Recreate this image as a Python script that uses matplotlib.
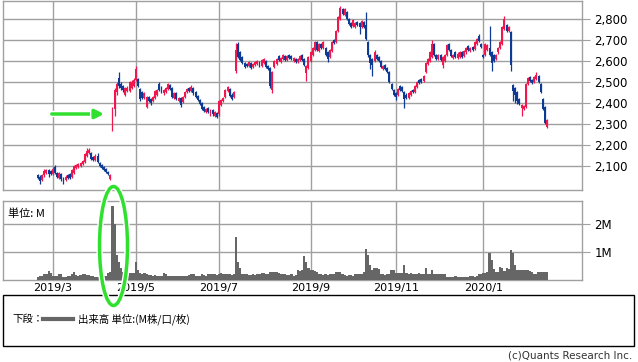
import numpy as np
import matplotlib
matplotlib.use("Agg")
from matplotlib import pyplot as plt
from matplotlib import patches
import matplotlib.patheffects as pe

# daily candles, 2019/2 - 2020/2 (trading days)
opens = [
    2055, 2050, 2035, 2055, 2065, 2080, 2075, 2060, 2095, 2065,
    2045, 2060, 2045, 2035, 2055, 2060, 2050, 2065, 2090, 2095,
    2100, 2110, 2120, 2150, 2160, 2160, 2145, 2130, 2150, 2115,
    2105, 2095, 2085, 2070, 2040, 2290, 2370, 2450, 2520, 2490,
    2480, 2440, 2455, 2455, 2470, 2480, 2510, 2515, 2468, 2450,
    2425, 2380, 2430, 2420, 2410, 2425, 2440, 2490, 2475, 2445,
    2450, 2465, 2485, 2470, 2425, 2445, 2410, 2425, 2405, 2430,
    2450, 2470, 2455, 2470, 2450, 2435, 2415, 2400, 2380, 2355,
    2375, 2345, 2365, 2340, 2350, 2345, 2390, 2410, 2430, 2455,
    2465, 2440, 2430, 2550, 2680, 2640, 2620, 2590, 2585, 2575,
    2590, 2570, 2580, 2585, 2595, 2575, 2590, 2600, 2575, 2565,
    2460, 2570, 2585, 2625, 2595, 2610, 2625, 2605, 2630, 2625,
    2600, 2610, 2595, 2605, 2630, 2610, 2540, 2565, 2600, 2630,
    2650, 2690, 2645, 2680, 2660, 2660, 2640, 2620, 2645, 2700,
    2690, 2740, 2800, 2845, 2820, 2830, 2800, 2780, 2765, 2760,
    2785, 2780, 2760, 2785, 2770, 2690, 2630, 2610, 2600, 2630,
    2620, 2600, 2560, 2580, 2565, 2545, 2490, 2460, 2445, 2440,
    2480, 2475, 2450, 2440, 2425, 2440, 2460, 2450, 2475, 2510,
    2515, 2505, 2545, 2585, 2600, 2620, 2680, 2630, 2610, 2630,
    2580, 2600, 2630, 2680, 2650, 2615, 2640, 2615, 2620, 2640,
    2625, 2640, 2670, 2645, 2665, 2655, 2680, 2720, 2680, 2630,
    2630, 2650, 2660, 2640, 2630, 2610, 2640, 2660, 2680, 2750,
    2770, 2740, 2735, 2485, 2470, 2450, 2420, 2375, 2370, 2380,
    2490, 2525, 2510, 2500, 2515, 2530, 2490, 2420, 2380, 2285,
]
closes = [
    2045, 2030, 2055, 2075, 2080, 2060, 2060, 2085, 2065, 2050,
    2065, 2040, 2030, 2050, 2045, 2045, 2080, 2100, 2105, 2110,
    2115, 2125, 2155, 2170, 2178, 2135, 2130, 2150, 2120, 2100,
    2090, 2080, 2070, 2060, 2055, 2370, 2460, 2490, 2480, 2470,
    2460, 2470, 2470, 2500, 2500, 2510, 2560, 2480, 2420, 2425,
    2445, 2430, 2410, 2400, 2430, 2455, 2460, 2460, 2450, 2460,
    2470, 2490, 2465, 2430, 2445, 2420, 2425, 2390, 2430, 2450,
    2465, 2455, 2475, 2445, 2430, 2415, 2395, 2370, 2360, 2370,
    2355, 2365, 2345, 2355, 2335, 2410, 2415, 2425, 2460, 2475,
    2435, 2420, 2450, 2650, 2620, 2605, 2590, 2570, 2575, 2595,
    2565, 2585, 2595, 2600, 2575, 2605, 2610, 2570, 2560, 2480,
    2545, 2600, 2610, 2605, 2615, 2630, 2605, 2625, 2615, 2610,
    2615, 2595, 2610, 2625, 2605, 2580, 2575, 2620, 2640, 2660,
    2690, 2650, 2680, 2660, 2690, 2630, 2610, 2650, 2690, 2685,
    2740, 2810, 2850, 2825, 2845, 2800, 2775, 2760, 2795, 2780,
    2770, 2760, 2790, 2760, 2705, 2630, 2590, 2580, 2640, 2610,
    2600, 2570, 2575, 2560, 2545, 2500, 2465, 2440, 2430, 2465,
    2460, 2455, 2420, 2425, 2445, 2455, 2450, 2480, 2500, 2495,
    2500, 2530, 2590, 2610, 2640, 2680, 2630, 2610, 2630, 2605,
    2620, 2630, 2675, 2650, 2625, 2630, 2620, 2635, 2640, 2620,
    2645, 2660, 2650, 2660, 2650, 2690, 2705, 2695, 2665, 2620,
    2680, 2675, 2630, 2590, 2600, 2630, 2660, 2690, 2760, 2800,
    2740, 2760, 2580, 2455, 2440, 2410, 2395, 2390, 2385, 2490,
    2520, 2505, 2495, 2525, 2535, 2500, 2450, 2370, 2305, 2320,
]
highs = [
    2060, 2055, 2060, 2085, 2085, 2085, 2080, 2095, 2105, 2070,
    2070, 2065, 2050, 2055, 2060, 2065, 2085, 2105, 2110, 2115,
    2120, 2130, 2160, 2185, 2185, 2165, 2150, 2155, 2160, 2120,
    2110, 2100, 2090, 2075, 2060, 2380, 2470, 2500, 2545, 2500,
    2485, 2475, 2480, 2505, 2510, 2520, 2575, 2520, 2470, 2455,
    2450, 2435, 2435, 2425, 2435, 2460, 2465, 2500, 2480, 2465,
    2475, 2495, 2490, 2475, 2450, 2450, 2430, 2430, 2435, 2455,
    2470, 2475, 2485, 2475, 2455, 2440, 2420, 2405, 2385, 2375,
    2380, 2370, 2370, 2360, 2355, 2415, 2420, 2430, 2465, 2480,
    2470, 2445, 2455, 2685, 2688, 2645, 2625, 2595, 2590, 2600,
    2595, 2590, 2600, 2605, 2600, 2610, 2615, 2605, 2580, 2570,
    2550, 2605, 2615, 2630, 2620, 2635, 2630, 2630, 2635, 2630,
    2620, 2615, 2615, 2630, 2635, 2615, 2580, 2625, 2645, 2665,
    2695, 2695, 2685, 2685, 2695, 2665, 2645, 2655, 2695, 2705,
    2745, 2815, 2862, 2850, 2850, 2835, 2805, 2785, 2800, 2785,
    2790, 2785, 2795, 2790, 2832, 2695, 2635, 2615, 2650, 2635,
    2625, 2605, 2580, 2585, 2570, 2550, 2495, 2465, 2450, 2470,
    2485, 2480, 2455, 2445, 2450, 2460, 2465, 2485, 2505, 2515,
    2520, 2535, 2595, 2615, 2645, 2700, 2685, 2635, 2635, 2635,
    2625, 2635, 2680, 2685, 2655, 2635, 2645, 2640, 2645, 2645,
    2650, 2665, 2675, 2665, 2670, 2695, 2710, 2730, 2685, 2635,
    2685, 2680, 2765, 2645, 2635, 2635, 2665, 2695, 2765, 2815,
    2775, 2765, 2740, 2490, 2475, 2455, 2425, 2395, 2390, 2495,
    2525, 2530, 2515, 2530, 2548, 2535, 2495, 2425, 2385, 2325,
]
lows = [
    2040, 2015, 2030, 2050, 2060, 2050, 2055, 2055, 2060, 2045,
    2040, 2030, 2015, 2030, 2040, 2040, 2045, 2060, 2085, 2090,
    2095, 2105, 2115, 2145, 2155, 2130, 2125, 2125, 2115, 2095,
    2085, 2075, 2065, 2055, 2035, 2265, 2340, 2440, 2470, 2460,
    2450, 2435, 2450, 2450, 2465, 2475, 2505, 2475, 2410, 2420,
    2420, 2375, 2405, 2390, 2405, 2420, 2435, 2455, 2445, 2440,
    2445, 2460, 2460, 2425, 2420, 2415, 2405, 2380, 2400, 2425,
    2445, 2450, 2450, 2440, 2425, 2410, 2390, 2365, 2355, 2350,
    2350, 2340, 2340, 2335, 2328, 2340, 2385, 2405, 2425, 2450,
    2430, 2415, 2425, 2540, 2615, 2600, 2585, 2565, 2570, 2570,
    2560, 2565, 2575, 2580, 2570, 2570, 2585, 2565, 2555, 2470,
    2445, 2565, 2580, 2600, 2590, 2605, 2600, 2600, 2610, 2605,
    2595, 2590, 2590, 2600, 2600, 2575, 2505, 2560, 2595, 2625,
    2645, 2645, 2640, 2655, 2655, 2625, 2594, 2615, 2640, 2680,
    2685, 2735, 2795, 2820, 2815, 2795, 2770, 2755, 2760, 2755,
    2765, 2730, 2755, 2755, 2700, 2620, 2560, 2530, 2595, 2605,
    2595, 2565, 2555, 2555, 2540, 2495, 2460, 2435, 2415, 2435,
    2455, 2450, 2375, 2420, 2420, 2435, 2445, 2445, 2470, 2490,
    2495, 2500, 2540, 2580, 2595, 2615, 2625, 2605, 2605, 2600,
    2565, 2595, 2625, 2645, 2620, 2610, 2615, 2610, 2615, 2615,
    2620, 2635, 2645, 2640, 2645, 2650, 2675, 2690, 2660, 2615,
    2625, 2645, 2625, 2552, 2595, 2605, 2635, 2655, 2675, 2745,
    2735, 2735, 2552, 2410, 2400, 2395, 2390, 2340, 2365, 2375,
    2485, 2500, 2490, 2495, 2510, 2495, 2445, 2365, 2300, 2280,
]
# volume (M shares)
volumes = [
    0.10, 0.14, 0.14, 0.20, 0.22, 0.32, 0.24, 0.16, 0.14, 0.15,
    0.20, 0.20, 0.12, 0.12, 0.14, 0.14, 0.22, 0.30, 0.18, 0.16,
    0.18, 0.20, 0.20, 0.18, 0.17, 0.14, 0.14, 0.12, 0.12, 0.10,
    0.10, 0.14, 0.16, 0.25, 0.30, 2.65, 1.99, 0.90, 0.63, 0.42,
    0.30, 0.18, 0.18, 0.26, 0.26, 0.24, 0.63, 0.34, 0.24, 0.22,
    0.24, 0.20, 0.18, 0.18, 0.16, 0.18, 0.16, 0.14, 0.14, 0.24,
    0.22, 0.14, 0.14, 0.14, 0.16, 0.15, 0.16, 0.15, 0.14, 0.16,
    0.14, 0.18, 0.20, 0.20, 0.16, 0.14, 0.16, 0.22, 0.18, 0.16,
    0.20, 0.22, 0.20, 0.22, 0.18, 0.20, 0.24, 0.20, 0.20, 0.22,
    0.20, 0.18, 0.20, 1.55, 0.66, 0.42, 0.22, 0.20, 0.22, 0.18,
    0.18, 0.20, 0.18, 0.20, 0.22, 0.24, 0.24, 0.22, 0.20, 0.30,
    0.30, 0.28, 0.30, 0.26, 0.22, 0.20, 0.22, 0.18, 0.18, 0.20,
    0.16, 0.18, 0.34, 0.32, 0.34, 0.84, 0.63, 0.42, 0.36, 0.36,
    0.32, 0.30, 0.20, 0.22, 0.18, 0.20, 0.18, 0.22, 0.22, 0.20,
    0.28, 0.30, 0.28, 0.20, 0.18, 0.16, 0.18, 0.18, 0.16, 0.20,
    0.22, 0.20, 0.22, 0.28, 1.10, 0.90, 0.54, 0.36, 0.42, 0.42,
    0.40, 0.22, 0.22, 0.18, 0.20, 0.22, 0.36, 0.36, 0.24, 0.26,
    0.24, 0.26, 0.54, 0.24, 0.22, 0.24, 0.22, 0.20, 0.22, 0.24,
    0.20, 0.22, 0.42, 0.22, 0.20, 0.36, 0.22, 0.20, 0.22, 0.20,
    0.22, 0.20, 0.12, 0.10, 0.12, 0.12, 0.14, 0.12, 0.12, 0.10,
    0.10, 0.12, 0.12, 0.14, 0.16, 0.12, 0.16, 0.20, 0.20, 0.24,
    0.24, 0.30, 0.96, 0.72, 0.38, 0.30, 0.28, 0.48, 0.42, 0.32,
    0.42, 0.40, 1.06, 0.95, 0.54, 0.36, 0.36, 0.36, 0.36, 0.36,
    0.36, 0.32, 0.30, 0.22, 0.22, 0.30, 0.30, 0.30, 0.30, 0.30,
]
month_labels = ["2019/3", "2019/5", "2019/7", "2019/9", "2019/11", "2020/1"]
month_index = [7, 46, 85, 128, 168, 209]   # first trading day of each month
price_ticks = [2100, 2200, 2300, 2400, 2500, 2600, 2700, 2800]

UP = "#f0164e"
DOWN = "#0c3a94"
GRID = "#a0a0a0"
GREEN = "#2fe02f"
JP = ["Noto Sans CJK JP", "DejaVu Sans"]

W, H = 638, 362
fig = plt.figure(figsize=(W / 100, H / 100), dpi=100)

def px_box(left, top, right, bottom):
    return [left / W, 1 - bottom / H, (right - left) / W, (bottom - top) / H]

# ---- price panel
ax = fig.add_axes(px_box(3, 0.5, 582, 190))
o = np.array(opens)
c = np.array(closes)
hi = np.array(highs)
lo = np.array(lows)
x = np.arange(len(o))
up = c >= o
col = np.where(up, UP, DOWN)
ax.vlines(x, lo, hi, colors=col, linewidth=0.9, zorder=3)
body_lo = np.minimum(o, c)
body_h = np.maximum(np.abs(c - o), 3)
ax.bar(x, body_h, bottom=body_lo, width=0.92, color=col, linewidth=0, zorder=3)

ax.set_xlim(-16.4, 255.4)
ax.set_ylim(1986, 2887)
ax.set_yticks(price_ticks)
ax.set_yticklabels(["{:,}".format(v) for v in price_ticks])
ax.yaxis.tick_right()
ax.tick_params(axis="y", length=6, color=GRID, labelsize=8.5, pad=3)
ax.set_xticks(month_index)
ax.tick_params(axis="x", length=0, labelbottom=False)
ax.grid(True, color=GRID, linewidth=1.0, zorder=0)
for s in ax.spines.values():
    s.set_color(GRID)
    s.set_linewidth(1.0)

# ---- volume panel
axv = fig.add_axes(px_box(3, 201, 582, 280))
axv.bar(x, volumes, width=1.0, color="#666666", linewidth=0, zorder=3,
        antialiased=False)
axv.set_xlim(-16.4, 255.4)
axv.set_ylim(0, 2.82)
axv.set_yticks([1, 2])
axv.set_yticklabels(["1M", "2M"])
axv.yaxis.tick_right()
axv.tick_params(axis="y", length=6, color=GRID, labelsize=8.5, pad=3)
axv.set_xticks(month_index)
axv.set_xticklabels(month_labels)
axv.tick_params(axis="x", length=0, labelsize=8, pad=2)
axv.grid(True, color=GRID, linewidth=1.0, zorder=0)
for s in axv.spines.values():
    s.set_color(GRID)
    s.set_linewidth(1.0)
axv.text(5 / 579, 1 - 7 / 79, "単位: M", transform=axv.transAxes,
         fontsize=8, family=JP, va="top", ha="left")

# ---- legend box
fig.add_artist(patches.Rectangle((3 / W, 1 - 346 / H), 631 / W, 51 / H,
                                 transform=fig.transFigure, fill=False,
                                 edgecolor="black", linewidth=1.0))
ly = 1 - 319 / H
fig.text(12 / W, ly, "下段：", fontsize=7.5, family=JP, va="center")
fig.add_artist(plt.Line2D([43 / W, 73 / W], [ly, ly], transform=fig.transFigure,
                          color="#666666", linewidth=3))
fig.text(78 / W, ly, "出来高 単位:(M株/口/枚)", fontsize=7.5, family=JP, va="center")
fig.text(632 / W, 1 - 356 / H, "(c)Quants Research Inc.", fontsize=7.5,
         ha="right", va="center", color="#333333")

# ---- green marks
outline = [pe.Stroke(linewidth=4.5, foreground="white"), pe.Normal()]
arrow = patches.FancyArrowPatch((49 / W, 1 - 114 / H), (107 / W, 1 - 114 / H),
                                transform=fig.transFigure, arrowstyle="-|>",
                                mutation_scale=13, color=GREEN, linewidth=2.5)
arrow.set_path_effects(outline)
fig.add_artist(arrow)
ring = patches.Ellipse((113.5 / W, 1 - 246 / H), 28 / W, 119 / H,
                       transform=fig.transFigure, fill=False,
                       edgecolor=GREEN, linewidth=2.5)
ring.set_path_effects(outline)
fig.add_artist(ring)

fig.savefig("out.png", dpi=100)
